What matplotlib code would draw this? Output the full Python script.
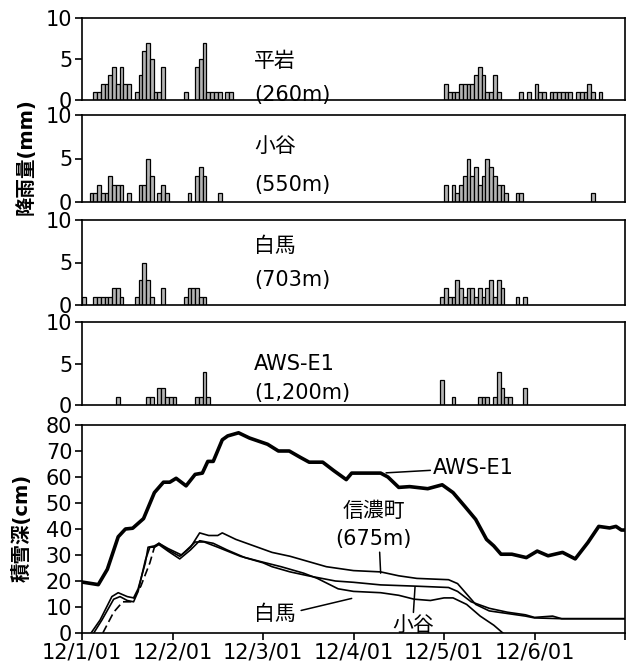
import matplotlib
matplotlib.use('Agg')
import matplotlib.pyplot as plt
import numpy as np

plt.rcParams['font.family'] = ['DejaVu Sans', 'Noto Sans CJK JP']

# ---------------- hourly precipitation (hour index from 12/1 00:00, mm) ----------------
hiraiwa_hours = [3, 4, 5, 6, 7, 8, 9, 10, 11, 12,
                 14, 15, 16, 17, 18, 19, 20, 21,
                 27, 30, 31, 32, 33, 34, 35, 36, 38, 39,
                 96, 97, 98, 99, 100, 101, 102, 103, 104, 105, 106, 107, 108, 109, 110,
                 116, 118, 120, 121, 122, 124, 125, 126, 127, 128, 129, 131, 132, 133, 134, 135, 137]
hiraiwa_mm = [1, 1, 2, 2, 3, 4, 2, 4, 2, 2,
              1, 3, 6, 7, 5, 1, 1, 4,
              1, 4, 5, 7, 1, 1, 1, 1, 1, 1,
              2, 1, 1, 1, 2, 2, 2, 2, 3, 4, 3, 1, 1, 3, 1,
              1, 1, 2, 1, 1, 1, 1, 1, 1, 1, 1, 1, 1, 1, 2, 1, 1]

otari_hours = [2, 3, 4, 5, 6, 7, 8, 9, 10, 12,
               15, 16, 17, 18, 20, 21, 22,
               28, 30, 31, 32, 36,
               96, 98, 99, 100, 101, 102, 103, 104, 105, 106, 107, 108, 109, 110, 111, 112,
               115, 116, 135]
otari_mm = [1, 1, 2, 1, 1, 3, 2, 2, 2, 1,
            2, 2, 5, 3, 1, 2, 1,
            1, 3, 4, 3, 1,
            2, 2, 1, 2, 3, 5, 3, 4, 2, 3, 5, 4, 3, 2, 2, 1,
            1, 1, 1]

hakuba_hours = [0, 3, 4, 5, 6, 7, 8, 9, 10,
                14, 15, 16, 17, 18, 21,
                27, 28, 29, 30, 31, 32,
                95, 96, 97, 98, 99, 100, 101, 102, 103, 104, 105, 106, 107, 108, 109, 110, 111,
                115, 117]
hakuba_mm = [1, 1, 1, 1, 1, 1, 2, 2, 1,
             1, 3, 5, 3, 1, 2,
             1, 2, 2, 2, 1, 1,
             1, 2, 1, 1, 3, 2, 1, 2, 2, 1, 2, 1, 2, 3, 1, 3, 2,
             1, 1]

aws_hours = [9, 17, 18, 20, 21, 22, 23, 24, 30, 31, 32, 33,
             95, 98, 105, 106, 107, 109, 110, 111, 112, 113, 117]
aws_mm = [1, 1, 1, 2, 2, 1, 1, 1, 1, 1, 4, 1,
          3, 1, 1, 1, 1, 1, 4, 2, 1, 1, 2]

precip_names = ['平岩', '小谷', '白馬', 'AWS-E1']
precip_elev = ['(260m)', '(550m)', '(703m)', '(1,200m)']

# ---------------- snow depth (days since 12/1 00:00, cm) ----------------
aws_days = [0.0, 0.18, 0.28, 0.40, 0.48, 0.56, 0.68, 0.80, 0.90, 0.97, 1.04, 1.15, 1.25, 1.33,
            1.39, 1.45, 1.55, 1.61, 1.73, 1.85, 1.95, 2.05, 2.17, 2.29, 2.41, 2.51, 2.66, 2.78,
            2.92, 2.98, 3.30, 3.38, 3.50, 3.62, 3.82, 3.98, 4.10, 4.23, 4.35, 4.47, 4.55, 4.63,
            4.75, 4.91, 5.03, 5.15, 5.31, 5.45, 5.59, 5.71, 5.83, 5.90, 5.96, 6.0]
aws_cm = [19.6, 18.6, 24.5, 37, 40, 40.3, 44, 54, 58, 58, 59.5, 56.6, 61, 61.5,
          66, 66, 74.3, 75.8, 77, 75, 73.8, 72.6, 70, 70, 67.6, 65.7, 65.7, 62.5,
          59, 61.5, 61.5, 60, 56, 56.3, 55.5, 57, 54, 48.7, 43.7, 36, 33.5, 30.3,
          30.3, 29, 31.5, 29.7, 31, 28.5, 34.8, 41, 40.4, 41, 39.6, 39.6]

shinano_days = [0.10, 0.20, 0.33, 0.40, 0.50, 0.57, 0.62, 0.70, 0.73, 0.80, 0.85, 0.95, 1.08,
                1.20, 1.30, 1.40, 1.50, 1.55, 1.70, 1.90, 2.10, 2.30, 2.50, 2.70, 2.90, 3.00,
                3.30, 3.50, 3.70, 4.05, 4.15, 4.25, 4.35, 4.50, 4.70, 4.90, 5.00, 5.30, 6.00]
shinano_cm = [0, 5, 14, 15.5, 14, 13.5, 17, 27, 33, 33.5, 34.5, 32, 29.5,
              33, 38.5, 37.5, 37.5, 38.5, 36, 33.5, 31, 29.5, 27.5, 25.5, 24.5, 24,
              23.5, 22, 21, 20.5, 19, 15, 11, 8.5, 7.5, 6.5, 5.8, 5.5, 5.5]

otari_days = [0.13, 0.22, 0.35, 0.42, 0.50, 0.57, 0.62, 0.70, 0.75, 0.80, 0.85, 0.95, 1.08,
              1.20, 1.30, 1.45, 1.60, 1.80, 2.00, 2.10, 2.30, 2.50, 2.80, 3.00, 3.30, 3.70,
              4.05, 4.15, 4.30, 4.50, 4.70, 4.90, 5.00, 5.20, 5.30, 6.00]
otari_cm = [0, 5, 13, 14, 12.5, 12, 16, 28, 33, 33, 34, 31.5, 28.5,
            32, 35.5, 34.5, 32, 29, 27, 25.5, 23.5, 22, 20, 19.5, 18.5, 18,
            17.5, 16, 12, 9.5, 8, 7, 6, 6.5, 5.5, 5.5]

hakuba_dash_days = [0.23, 0.35, 0.45, 0.55, 0.65, 0.75, 0.80]
hakuba_dash_cm = [0, 8, 12, 12, 18, 27, 33]
hakuba_days = [0.80, 0.85, 0.95, 1.10, 1.25, 1.35, 1.50, 1.75, 1.97, 2.20, 2.45, 2.60, 2.83,
               3.00, 3.30, 3.50, 3.67, 3.85, 4.00, 4.10, 4.25, 4.40, 4.55, 4.65]
hakuba_cm = [33, 34.5, 32.5, 30, 35, 35, 33, 29.5, 27.5, 25.5, 23, 21, 17,
             16, 15.5, 14.5, 13, 12.5, 13.5, 13.5, 11, 6.5, 3, 0]

x_ticklabels = ['12/1/01', '12/2/01', '12/3/01', '12/4/01', '12/5/01', '12/6/01', '']

# ---------------- layout ----------------
W, H = 628, 670
fig = plt.figure(figsize=(W / 100, H / 100), dpi=100)
left = 82 / W
width = (625 - 82) / W
panels_px = [(18, 100), (115, 202), (220, 305), (322, 405)]
snow_px = (425, 633)

def ax_at(top, bot):
    return fig.add_axes([left, 1 - bot / H, width, (bot - top) / H])

TICK_FS = 15
LABEL_FS = 15

def style(ax):
    for s in ax.spines.values():
        s.set_linewidth(1.2)
    ax.tick_params(direction='out', length=5, width=1.2, labelsize=TICK_FS, pad=2)

precip_sets = [(hiraiwa_hours, hiraiwa_mm), (otari_hours, otari_mm),
               (hakuba_hours, hakuba_mm), (aws_hours, aws_mm)]
label_y = [(4.7, 0.6), (6.4, 1.9), (6.9, 2.9), (5.0, 1.5)]

for i, ((hrs, mm), (t, b)) in enumerate(zip(precip_sets, panels_px)):
    ax = ax_at(t, b)
    style(ax)
    ax.bar(np.array(hrs) / 24.0, mm, width=1 / 24.0, align='edge',
           facecolor='#b4b4b4', edgecolor='black', linewidth=0.9)
    ax.set_xlim(0, 6)
    ax.set_ylim(0, 10)
    ax.set_yticks([0, 5, 10])
    ax.set_xticks([])
    ax.text(1.9, label_y[i][0], precip_names[i], fontsize=LABEL_FS, va='center', ha='left')
    ax.text(1.9, label_y[i][1], precip_elev[i], fontsize=LABEL_FS, va='center', ha='left')

fig.text(26 / W, 1 - 157 / H, '降雨量(mm)', rotation=90, ha='center', va='center',
         fontsize=14, fontweight='bold')

# snow depth panel
ax5 = ax_at(*snow_px)
style(ax5)
ax5.plot(aws_days, aws_cm, color='black', lw=2.6, solid_joinstyle='round')
ax5.plot(shinano_days, shinano_cm, color='black', lw=1.2)
ax5.plot(otari_days, otari_cm, color='black', lw=1.2)
ax5.plot(hakuba_dash_days, hakuba_dash_cm, color='black', lw=1.2, ls=(0, (5, 2.5)))
ax5.plot(hakuba_days, hakuba_cm, color='black', lw=1.2)
ax5.set_xlim(0, 6)
ax5.set_ylim(0, 80)
ax5.set_yticks(range(0, 81, 10))
ax5.set_xticks(range(7))
ax5.set_xticklabels(x_ticklabels)

arrow = dict(arrowstyle='-', color='black', lw=1.1, shrinkA=0, shrinkB=0)
ax5.annotate('AWS-E1', xy=(3.36, 61.6), xytext=(3.88, 63.5), fontsize=LABEL_FS,
             va='center', ha='left', arrowprops=arrow)
ax5.text(3.22, 47, '信濃町', fontsize=LABEL_FS, ha='center', va='center')
ax5.annotate('(675m)', xy=(3.30, 23.0), xytext=(3.22, 36), fontsize=LABEL_FS,
             ha='center', va='center',
             arrowprops=dict(arrowstyle='-', color='black', lw=1.1, shrinkA=0, shrinkB=0,
                             relpos=(0.58, 0.0)))
ax5.annotate('小谷', xy=(3.68, 17.8), xytext=(3.66, 3.0), fontsize=LABEL_FS,
             ha='center', va='center',
             arrowprops=dict(arrowstyle='-', color='black', lw=1.1, shrinkA=0, shrinkB=0,
                             relpos=(0.5, 1.0)))
ax5.annotate('白馬', xy=(2.98, 13.3), xytext=(2.13, 7.4), fontsize=LABEL_FS,
             ha='center', va='center',
             arrowprops=dict(arrowstyle='-', color='black', lw=1.1, shrinkA=2, shrinkB=0,
                             relpos=(1.0, 0.6)))

fig.text(22 / W, 1 - 528 / H, '積雪深(cm)', rotation=90, ha='center', va='center',
         fontsize=14, fontweight='bold')

fig.savefig('out.png', dpi=100)
